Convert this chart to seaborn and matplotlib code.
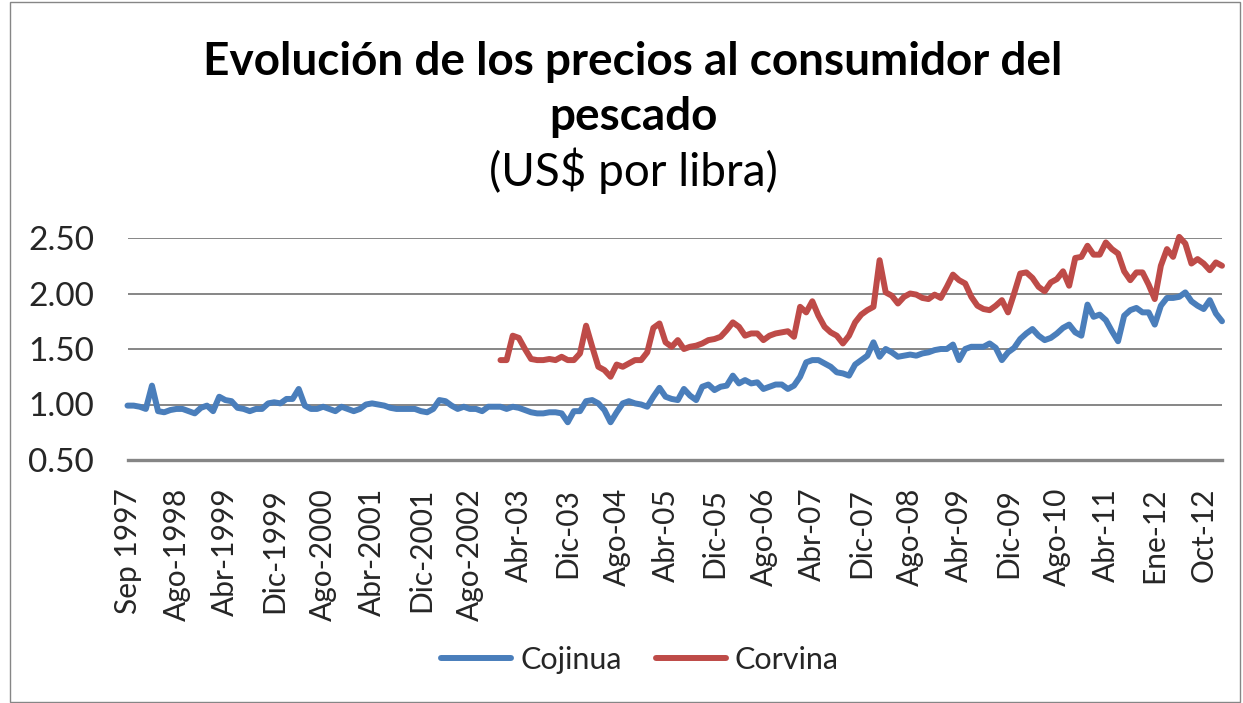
import numpy as np
import pandas as pd
import seaborn as sns
import matplotlib.pyplot as plt
from matplotlib.patches import Rectangle
from matplotlib.lines import Line2D

# ---------------- data ----------------
tick_labels = ["Sep 1997", "Ago-1998", "Abr-1999", "Dic-1999", "Ago-2000", "Abr-2001",
               "Dic-2001", "Ago-2002", "Abr-03", "Dic-03", "Ago-04", "Abr-05", "Dic-05",
               "Ago-06", "Abr-07", "Dic-07", "Ago-08", "Abr-09", "Dic-09", "Ago-10",
               "Abr-11", "Ene-12", "Oct-12"]
tick_step = 8

series_names = ["Cojinua", "Corvina"]

cojinua = [
    0.99, 0.99, 0.98, 0.96, 1.17, 0.94, 0.93, 0.95, 0.96, 0.96,
    0.94, 0.92, 0.97, 0.99, 0.94, 1.07, 1.04, 1.03, 0.97, 0.96,
    0.94, 0.96, 0.96, 1.01, 1.02, 1.01, 1.05, 1.05, 1.14, 0.99,
    0.96, 0.96, 0.98, 0.96, 0.94, 0.98, 0.96, 0.94, 0.96, 1.00,
    1.01, 1.00, 0.99, 0.97, 0.96, 0.96, 0.96, 0.96, 0.94, 0.93,
    0.96, 1.04, 1.03, 0.99, 0.96, 0.98, 0.96, 0.96, 0.94, 0.98,
    0.98, 0.98, 0.96, 0.98, 0.97, 0.95, 0.93, 0.92, 0.92, 0.93,
    0.93, 0.92, 0.84, 0.94, 0.94, 1.03, 1.04, 1.01, 0.95, 0.84,
    0.93, 1.01, 1.03, 1.01, 1.00, 0.98, 1.07, 1.15, 1.07, 1.05,
    1.04, 1.14, 1.08, 1.04, 1.16, 1.18, 1.13, 1.16, 1.17, 1.26,
    1.19, 1.22, 1.19, 1.20, 1.14, 1.16, 1.18, 1.18, 1.14, 1.17,
    1.25, 1.38, 1.40, 1.40, 1.37, 1.34, 1.29, 1.28, 1.26, 1.36,
    1.40, 1.44, 1.56, 1.43, 1.50, 1.47, 1.43, 1.44, 1.45, 1.44,
    1.46, 1.47, 1.49, 1.50, 1.50, 1.54, 1.40, 1.50, 1.52, 1.52,
    1.52, 1.55, 1.51, 1.40, 1.47, 1.51, 1.59, 1.64, 1.68, 1.62,
    1.58, 1.60, 1.64, 1.69, 1.72, 1.65, 1.62, 1.90, 1.79, 1.81,
    1.76, 1.66, 1.57, 1.80, 1.85, 1.87, 1.83, 1.83, 1.72, 1.89,
    1.96, 1.96, 1.97, 2.01, 1.93, 1.89, 1.86, 1.94, 1.82, 1.75,
]

corvina_start = 61
corvina = [
    1.40, 1.40, 1.62, 1.60, 1.50, 1.41, 1.40, 1.40, 1.41,
    1.40, 1.43, 1.40, 1.40, 1.46, 1.71, 1.52, 1.34, 1.31, 1.25,
    1.36, 1.34, 1.37, 1.40, 1.40, 1.47, 1.69, 1.73, 1.56, 1.52,
    1.58, 1.50, 1.52, 1.53, 1.55, 1.58, 1.59, 1.61, 1.67, 1.74,
    1.70, 1.62, 1.64, 1.64, 1.58, 1.62, 1.64, 1.65, 1.66, 1.61,
    1.88, 1.83, 1.93, 1.80, 1.70, 1.65, 1.62, 1.55, 1.62, 1.74,
    1.81, 1.85, 1.88, 2.30, 2.01, 1.98, 1.91, 1.97, 2.00, 1.99,
    1.96, 1.95, 1.99, 1.96, 2.06, 2.17, 2.12, 2.09, 1.97, 1.89,
    1.86, 1.85, 1.89, 1.94, 1.83, 2.00, 2.18, 2.19, 2.14, 2.06,
    2.02, 2.10, 2.13, 2.20, 2.07, 2.32, 2.33, 2.43, 2.35, 2.35,
    2.46, 2.40, 2.36, 2.20, 2.12, 2.19, 2.19, 2.08, 1.95, 2.25,
    2.40, 2.33, 2.51, 2.45, 2.27, 2.31, 2.27, 2.21, 2.28, 2.25,
]

y_ticks = [0.5, 1.0, 1.5, 2.0, 2.5]

colors = {"Cojinua": "#4A7EBB", "Corvina": "#BE4B48"}

# ---------------- build frame ----------------
n = len(cojinua)
idx = np.arange(n)
corv_full = [np.nan] * corvina_start + corvina
df = pd.DataFrame({
    "idx": np.concatenate([idx, idx]),
    "precio": cojinua + corv_full,
    "serie": [series_names[0]] * n + [series_names[1]] * n,
}).dropna()

sns.set_theme(style="white")
plt.rcParams["font.family"] = ["Lato", "DejaVu Sans"]

W, H = 1243, 703
fig = plt.figure(figsize=(W / 100, H / 100), dpi=100)
fig.patch.set_facecolor("white")

x0, x1, ytop, ybot = 127.5, 1222, 238, 460
ax = fig.add_axes([x0 / W, 1 - ybot / H, (x1 - x0) / W, (ybot - ytop) / H])

LW = 4.3
sns.lineplot(data=df, x="idx", y="precio", hue="serie", palette=colors,
             linewidth=LW, ax=ax, legend=False, clip_on=False,
             solid_joinstyle="round", solid_capstyle="round")

ax.set_xlim(0, n - 1)
ax.set_ylim(0.5, 2.5)
ax.set_yticks(y_ticks)
ax.set_yticklabels([f"{v:.2f}" for v in y_ticks])
ax.set_xticks(np.arange(0, n, tick_step)[:len(tick_labels)])
ax.set_xticklabels(tick_labels, rotation=90, fontsize=21.5)
ax.set_xlabel("")
ax.set_ylabel("")
ax.tick_params(axis="y", labelsize=24, length=0, pad=24)
ax.tick_params(axis="x", length=0, pad=20)
for t in ax.get_xticklabels():
    t.set_va("top")
    t.set_ha("center")

ax.yaxis.grid(True, color="#868686", linewidth=1.4)
ax.xaxis.grid(False)
ax.set_axisbelow(True)
for s in ["top", "left", "right"]:
    ax.spines[s].set_visible(False)
ax.spines["bottom"].set_color("#868686")
ax.spines["bottom"].set_linewidth(2.4)
ax.set_facecolor("white")

# legend
handles = [Line2D([], [], color=colors[s], linewidth=LW, solid_capstyle="round")
           for s in series_names]
fig.legend(handles, series_names, loc="center", bbox_to_anchor=(640 / W, 1 - 660 / H),
           ncol=2, frameon=False, fontsize=22, handlelength=2.3, handletextpad=0.3,
           columnspacing=1.1)

# titles
fig.text(633 / W, 1 - 62 / H, "Evolución de los precios al consumidor del",
         ha="center", va="center", fontsize=33, fontweight="bold", color="black")
fig.text(633 / W, 1 - 117 / H, "pescado",
         ha="center", va="center", fontsize=33, fontweight="bold", color="black")
fig.text(633 / W, 1 - 171 / H, "(US$ por libra)", ha="center", va="center",
         fontsize=33, color="black")

# chart border
fig.patches.append(Rectangle((10 / W, 1 / H), (1240 - 10) / W, 700 / H,
                             transform=fig.transFigure, fill=False,
                             edgecolor="#868686", linewidth=1))

fig.savefig("out.png", dpi=100)
